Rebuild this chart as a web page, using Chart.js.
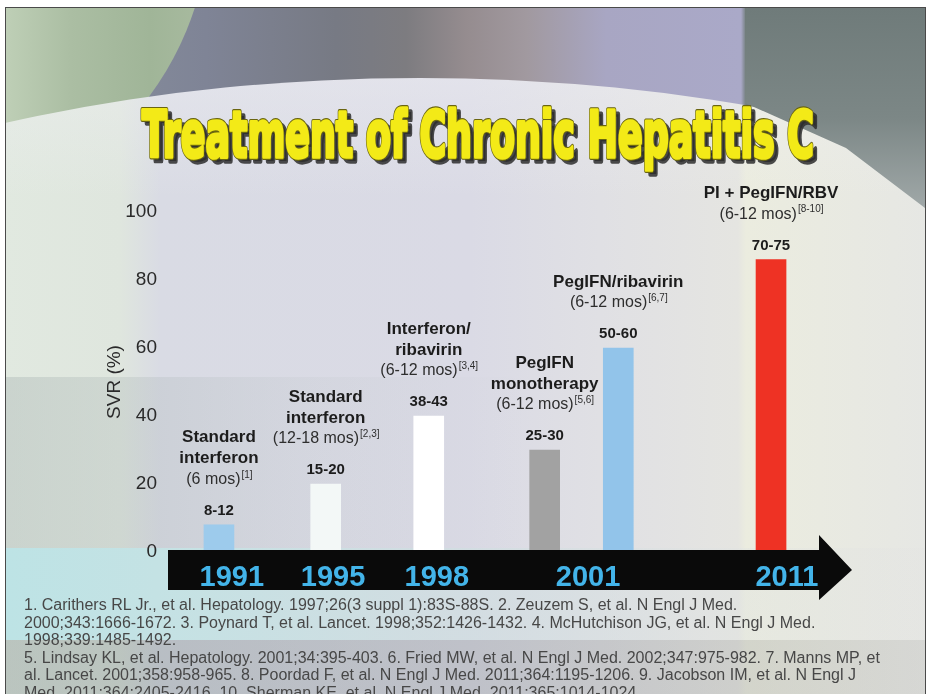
<!DOCTYPE html>
<html>
<head>
<meta charset="utf-8">
<script src="https://cdn.jsdelivr.net/npm/chart.js@4.4.0/dist/chart.umd.min.js"></script>
<style>
  html, body { margin: 0; padding: 0; width: 930px; height: 694px; overflow: hidden; background: #fff; }
  #slide { position: absolute; left: 5px; top: 7px; width: 919px; height: 700px; overflow: hidden;
    border-left: 1px solid #4a4a4a; border-top: 1px solid #4a4a4a; border-right: 1px solid #4a4a4a;
    background: linear-gradient(to right, #8a93a0 0px, #7f8496 200px, #777a84 330px, #7d7c80 400px,
      #958c8f 460px, #a1999f 520px, #a8a6c3 600px, #aaa9c8 735px, #717d7c 740px, #6c7877 919px); }
  .layer { position: absolute; }
  #refs { position: absolute; left: 24px; top: 596px; font-family: "Liberation Sans", Arial, sans-serif;
    font-size: 16px; line-height: 17.6px; color: #474747; white-space: pre; }
  canvas { position: absolute; left: 0; top: 0; }
</style>
</head>
<body>
<div id="slide">
  <!-- green corner -->
  <div class="layer" style="left:-416px; top:-406px; width:620px; height:620px; border-radius:50%;
    background: linear-gradient(to right, #c3d3bb 400px, #abbea3 480px, #a0b598 560px, #a9bba0 620px);"></div>
  <!-- big light arc -->
  <div class="layer" style="left:-586px; top:70px; width:2000px; height:1000px; border-radius:50%;
    background: linear-gradient(to bottom, rgba(240,240,244,0.4) 0px, rgba(240,240,244,0) 120px),
      linear-gradient(to right, #e1e9e0 580px, #dfe6de 700px, #d9dbe4 740px, #dadae5 1050px, #e0e0e4 1180px, #e5e5e1 1318px, #ebecdf 1326px, #e6e7e4 1510px);"></div>
  <!-- right sweep -->
  <div class="layer" style="left:0; top:0; width:919px; height:260px;
    clip-path: polygon(739px 0px, 919px 0px, 919px 200px, 840px 140px, 739px 95px);
    background: linear-gradient(to bottom, #6f7b7a 0px, #7c8786 110px, #a0a8a8 200px);"></div>
  <!-- grey band middle left -->
  <div class="layer" style="left:0; top:369px; width:919px; height:171px;
    background: linear-gradient(to right, rgba(160,172,172,0.35) 0px, rgba(170,180,180,0.12) 300px, rgba(170,180,180,0) 520px);"></div>
  <!-- cyan band -->
  <div class="layer" style="left:0; top:540px; width:919px; height:92px;
    background: linear-gradient(to right, #bde3e5 0px, #c4e2e4 150px, rgba(205,222,224,0.7) 420px, rgba(220,225,225,0.35) 700px, rgba(225,225,225,0.2) 919px);"></div>
  <!-- grey bottom band -->
  <div class="layer" style="left:0; top:632px; width:919px; height:70px;
    background: linear-gradient(to right, rgba(115,130,130,0.35) 0px, rgba(130,135,135,0.28) 600px, rgba(150,150,150,0.2) 919px);"></div>
</div>
<canvas id="svrChart" width="930" height="694"></canvas>
<div id="refs"></div>

<script>
// Chart data
const treatmentLines = [
  ['Standard', 'interferon'],
  ['Standard', 'interferon'],
  ['Interferon/', 'ribavirin'],
  ['PegIFN', 'monotherapy'],
  ['PegIFN/ribavirin'],
  ['PI + PegIFN/RBV']
];
const durations = ['(6 mos)', '(12-18 mos)', '(6-12 mos)', '(6-12 mos)', '(6-12 mos)', '(6-12 mos)'];
const refMarks = ['[1]', '[2,3]', '[3,4]', '[5,6]', '[6,7]', '[8-10]'];
const svrRanges = ['8-12', '15-20', '38-43', '25-30', '50-60', '70-75'];
const svrValues = [8, 20, 40, 30, 60, 86];
const barPositions = [0, 2.9, 5.7, 8.85, 10.85, 15];
const barColors = ['#9dcbec', '#f3f8f7', '#ffffff', '#a2a2a2', '#92c4ea', '#ee3224'];
const yearLabels = ['1991', '1995', '1998', '2001', '2011'];
const yearPositions = [0.35, 3.1, 5.92, 10.03, 15.43];
const yTicks = [0, 20, 40, 60, 80, 100];

const footnotes = [
  '1. Carithers RL Jr., et al. Hepatology. 1997;26(3 suppl 1):83S-88S. 2. Zeuzem S, et al. N Engl J Med.',
  '2000;343:1666-1672. 3. Poynard T, et al. Lancet. 1998;352:1426-1432. 4. McHutchison JG, et al. N Engl J Med.',
  '1998;339:1485-1492.',
  '5. Lindsay KL, et al. Hepatology. 2001;34:395-403. 6. Fried MW, et al. N Engl J Med. 2002;347:975-982. 7. Manns MP, et',
  'al. Lancet. 2001;358:958-965. 8. Poordad F, et al. N Engl J Med. 2011;364:1195-1206. 9. Jacobson IM, et al. N Engl J',
  'Med. 2011;364:2405-2416. 10. Sherman KE, et al. N Engl J Med. 2011;365:1014-1024.'
];
document.getElementById('refs').textContent = footnotes.join('\n');

const FONT = '"Liberation Sans", Arial, sans-serif';

// slide title
const titlePlugin = {
  id: 'slideTitle',
  beforeDraw(chart) {
    const c = chart.ctx;
    const text = 'Treatment of Chronic Hepatitis C';
    c.save();
    c.font = 'bold 60px "DejaVu Sans"';
    const w = c.measureText(text).width;
    const sx = 672 / w, sy = 1.07;
    const draw = (dx, dy, color, lw) => {
      c.save();
      c.translate(478 + dx, 157 + dy);
      c.scale(sx, sy);
      c.textAlign = 'center';
      c.textBaseline = 'alphabetic';
      c.fillStyle = color;
      c.strokeStyle = color;
      c.lineWidth = lw;
      c.lineJoin = 'round';
      c.strokeText(text, 0, 0);
      c.fillText(text, 0, 0);
      c.restore();
    };
    draw(4, 4, 'rgba(45,45,45,0.85)', 5);
    draw(0, 0, '#6a6510', 5.5);
    draw(0, 0, '#f3ea17', 3.5);
    c.restore();
  }
};

// black timeline arrow with years
const timelinePlugin = {
  id: 'timeline',
  afterDatasetsDraw(chart) {
    const c = chart.ctx;
    const area = chart.chartArea;
    const xs = chart.scales.x;
    const base = chart.scales.y.getPixelForValue(0);
    const top = base - 2, bottom = base + 38, mid = (top + bottom) / 2;
    const headStart = area.right - 33;
    c.save();
    c.fillStyle = '#0a0a0a';
    c.beginPath();
    c.moveTo(area.left - 2, top);
    c.lineTo(headStart, top);
    c.lineTo(headStart, top - 15);
    c.lineTo(area.right, mid);
    c.lineTo(headStart, bottom + 10);
    c.lineTo(headStart, bottom);
    c.lineTo(area.left - 2, bottom);
    c.closePath();
    c.fill();
    c.font = 'bold 29px ' + FONT;
    c.fillStyle = '#43b4e9';
    c.textAlign = 'center';
    c.textBaseline = 'alphabetic';
    yearLabels.forEach((y, i) => {
      c.fillText(y, xs.getPixelForValue(yearPositions[i]), bottom - 4);
    });
    c.restore();
  }
};

// labels above bars
const barLabelPlugin = {
  id: 'barLabels',
  afterDatasetsDraw(chart) {
    const c = chart.ctx;
    const bars = chart.getDatasetMeta(0).data;
    c.save();
    c.textBaseline = 'middle';
    bars.forEach((bar, i) => {
      const x = bar.x, top = bar.y;
      c.fillStyle = '#1c1c1c';
      c.textAlign = 'center';
      c.font = 'bold 15px ' + FONT;
      c.fillText(svrRanges[i], x, top - 14);

      // duration line with superscript reference
      const dy = top - 45;
      c.font = '16px ' + FONT;
      const w1 = c.measureText(durations[i]).width;
      c.font = '10px ' + FONT;
      const w2 = c.measureText(refMarks[i]).width;
      const start = x - (w1 + w2) / 2;
      c.textAlign = 'left';
      c.fillStyle = '#2e2e2e';
      c.font = '16px ' + FONT;
      c.fillText(durations[i], start, dy);
      c.font = '10px ' + FONT;
      c.fillText(refMarks[i], start + w1 + 1, dy - 5);

      c.textAlign = 'center';
      c.fillStyle = '#1c1c1c';
      c.font = 'bold 17px ' + FONT;
      const lines = treatmentLines[i];
      lines.forEach((ln, k) => {
        c.fillText(ln, x, dy - 21 * (lines.length - k));
      });
    });
    c.restore();
  }
};

const ctx = document.getElementById('svrChart').getContext('2d');
new Chart(ctx, {
  type: 'bar',
  data: {
    datasets: [{
      data: barPositions.map((p, i) => ({ x: p, y: svrValues[i] })),
      backgroundColor: barColors,
      borderWidth: 0,
      barThickness: 30
    }]
  },
  options: {
    responsive: false,
    animation: false,
    layout: { padding: { left: 70, right: 78, top: 212, bottom: 142 } },
    plugins: { legend: { display: false }, tooltip: { enabled: false } },
    scales: {
      x: { type: 'linear', min: -1.33, max: 17.2, offset: false, display: false },
      y: {
        min: 0, max: 100,
        afterBuildTicks: s => { s.ticks = yTicks.map(v => ({ value: v })); },
        afterFit: s => { s.width = 100; },
        ticks: { font: { size: 19, family: FONT }, color: '#2a2a2a', padding: 13 },
        grid: { display: false, drawTicks: false },
        border: { display: false },
        title: { display: true, text: 'SVR (%)', font: { size: 19, family: FONT }, color: '#2a2a2a', padding: { top: 33, bottom: 0 } }
      }
    }
  },
  plugins: [titlePlugin, barLabelPlugin, timelinePlugin]
});
</script>
</body>
</html>
